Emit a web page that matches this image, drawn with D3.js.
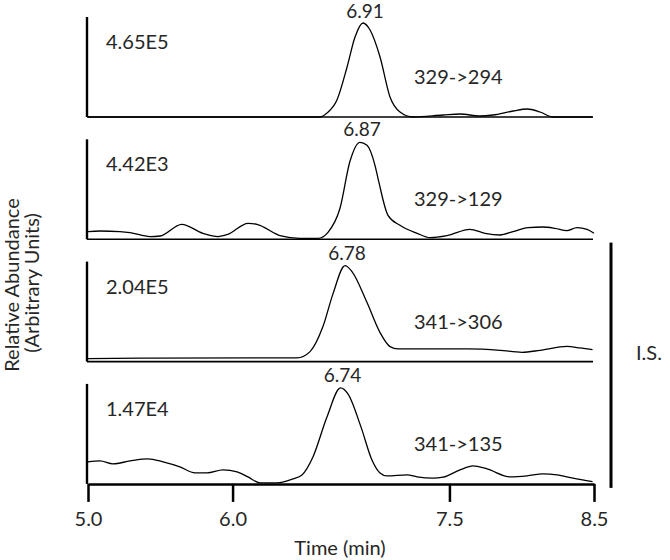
<!DOCTYPE html>
<html>
<head>
<meta charset="utf-8">
<script src="https://cdn.jsdelivr.net/npm/d3@7"></script>
<style>
  html, body { margin: 0; padding: 0; background: #fff; }
  svg { display: block; }
  text { font-family: Lato, "Open Sans", sans-serif; fill: #262626; }
</style>
</head>
<body>
<svg id="chart" width="670" height="560"></svg>
<script>
// ---- data (time in min, relative abundance 0..1 within each panel) ----
const trace1 = [[5.00,0],[6.605,0],[6.653,0.04],[6.722,0.17],[6.792,0.50],[6.847,0.80],[6.902,0.94],[6.951,0.87],[7.020,0.60],[7.089,0.20],[7.158,0.05],[7.248,0.0],[7.456,0.02],[7.573,0.03],[7.711,0.01],[7.801,0.02],[7.940,0.06],[8.037,0.08],[8.127,0.05],[8.216,0.0],[8.49,0.0]];
const trace2 = [[5.00,0.077],[5.083,0.083],[5.221,0.077],[5.291,0.067],[5.429,0.027],[5.498,0.033],[5.648,0.15],[5.795,0.06],[5.899,0.027],[5.968,0.05],[6.107,0.16],[6.169,0.15],[6.328,0.037],[6.466,0.01],[6.591,0.01],[6.660,0.07],[6.743,0.31],[6.812,0.78],[6.881,0.97],[6.930,0.94],[6.985,0.74],[7.006,0.61],[7.075,0.24],[7.158,0.14],[7.276,0.06],[7.366,0.017],[7.483,0.037],[7.642,0.10],[7.746,0.06],[7.850,0.043],[7.940,0.077],[8.044,0.117],[8.147,0.123],[8.230,0.11],[8.313,0.087],[8.382,0.117],[8.452,0.10],[8.50,0.06]];
const trace3 = [[5.00,0.03],[5.429,0.035],[6.446,0.037],[6.536,0.10],[6.625,0.35],[6.695,0.68],[6.778,0.96],[6.826,0.90],[6.930,0.59],[7.020,0.29],[7.089,0.15],[7.144,0.127],[7.345,0.127],[7.622,0.127],[7.850,0.113],[8.002,0.093],[8.127,0.113],[8.313,0.153],[8.403,0.137],[8.49,0.12]];
const trace4 = [[5.00,0.22],[5.083,0.23],[5.173,0.20],[5.291,0.23],[5.415,0.25],[5.519,0.22],[5.636,0.17],[5.740,0.11],[5.823,0.11],[5.934,0.14],[6.031,0.12],[6.107,0.07],[6.190,0.01],[6.307,0.01],[6.418,0.05],[6.480,0.09],[6.556,0.27],[6.653,0.67],[6.747,0.96],[6.798,0.90],[6.888,0.57],[6.964,0.24],[7.020,0.11],[7.068,0.08],[7.207,0.09],[7.276,0.07],[7.386,0.057],[7.456,0.067],[7.573,0.14],[7.663,0.18],[7.760,0.15],[7.919,0.07],[8.037,0.08],[8.147,0.10],[8.244,0.09],[8.355,0.057],[8.49,0.023]];
const traces = [trace1, trace2, trace3, trace4];
const intensityLabels = ["4.65E5", "4.42E3", "2.04E5", "1.47E4"];
const transitionLabels = ["329->294", "329->129", "341->306", "341->135"];
const peakLabels = ["6.91", "6.87", "6.78", "6.74"];
const xTicks = [5.0, 6.0, 7.5, 8.5];
const xTitle = "Time (min)";
const yTitle = ["Relative Abundance", "(Arbitrary Units)"];
const isLabel = "I.S.";

// ---- layout ----
const svg = d3.select("#chart");
const x = d3.scaleLinear().domain([5, 8.5]).range([88, 594]);
const panelH = 100, firstTop = 17, step = 122.3;
const fs = 20;

traces.forEach((tr, i) => {
  const top = firstTop + i * step;
  const base = top + panelH;
  const y = d3.scaleLinear().domain([0, 1]).range([base, top]);
  const g = svg.append("g");

  // vertical axis
  g.append("line").attr("x1", x(5) - 1).attr("x2", x(5) - 1)
    .attr("y1", y(1)).attr("y2", y(0))
    .attr("stroke", "#000").attr("stroke-width", 2.4);
  // baseline (bottom panel uses the time axis)
  if (i < traces.length - 1) {
    g.append("line").attr("x1", x(5) - 1).attr("x2", x(8.5) - 1)
      .attr("y1", y(0)).attr("y2", y(0))
      .attr("stroke", "#000").attr("stroke-width", 1.6);
  }
  // trace
  const line = d3.line().x(d => x(d[0])).y(d => y(d[1])).curve(d3.curveMonotoneX);
  g.append("path").datum(tr).attr("d", line)
    .attr("fill", "none").attr("stroke", "#000").attr("stroke-width", 1.3)
    .attr("stroke-linejoin", "round");

  // peak label above apex
  const apex = tr.reduce((a, b) => (b[1] > a[1] ? b : a));
  g.append("text").attr("x", x(apex[0]) + 2).attr("y", Math.max(y(apex[1]) - 6, 18))
    .attr("text-anchor", "middle").attr("font-size", fs - 1).text(peakLabels[i]);

  // intensity label
  g.append("text").attr("x", 106).attr("y", top + 32)
    .attr("font-size", fs).text(intensityLabels[i]);

  // transition label
  g.append("text").attr("x", 414).attr("y", top + 67)
    .attr("font-size", fs).text(transitionLabels[i]);
});

// time axis
const axisY = firstTop + 3 * step + panelH;
const axis = d3.axisBottom(x).tickValues(xTicks).tickFormat(d3.format(".1f"))
  .tickSize(18).tickSizeOuter(0).tickPadding(10);
const ag = svg.append("g").attr("transform", `translate(0,${axisY})`).call(axis);
ag.select(".domain").attr("stroke", "#000").attr("stroke-width", 2.5);
ag.selectAll(".tick line").attr("stroke", "#000").attr("stroke-width", 2.5);
ag.selectAll(".tick text").attr("font-size", fs).attr("font-family", "Lato, sans-serif").attr("fill", "#262626");

svg.append("text").attr("x", 340).attr("y", 555).attr("text-anchor", "middle")
  .attr("font-size", fs).text(xTitle);

// y title
svg.append("text").attr("transform", "translate(19,285) rotate(-90)")
  .attr("text-anchor", "middle").attr("font-size", fs).text(yTitle[0]);
svg.append("text").attr("transform", "translate(39,283) rotate(-90)")
  .attr("text-anchor", "middle").attr("font-size", fs).text(yTitle[1]);

// internal standard bracket
svg.append("line").attr("x1", 611).attr("x2", 611)
  .attr("y1", firstTop + 2 * step - 19).attr("y2", axisY + 4)
  .attr("stroke", "#000").attr("stroke-width", 3);
svg.append("text").attr("x", 636).attr("y", 360).attr("font-size", fs).text(isLabel);
</script>
</body>
</html>
